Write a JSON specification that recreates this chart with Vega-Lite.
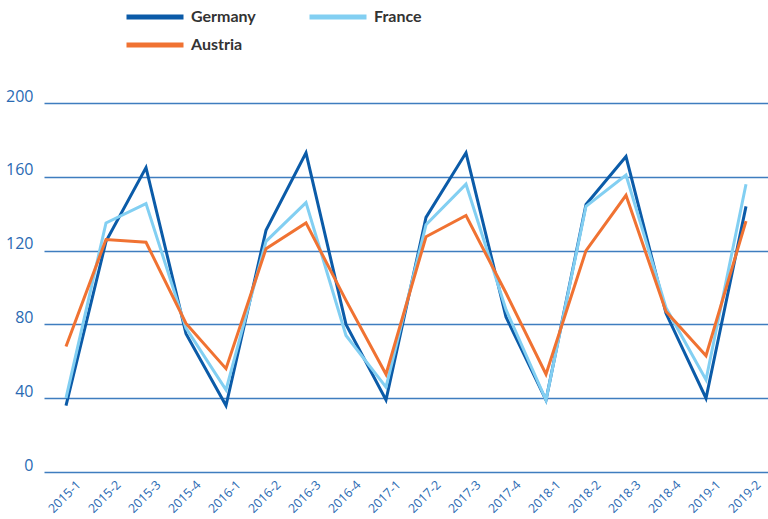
{
  "$schema": "https://vega.github.io/schema/vega-lite/v6.json",
  "width": 724,
  "height": 369,
  "autosize": "none",
  "padding": {"left": 44, "top": 103, "right": 0, "bottom": 47},
  "background": "white",
  "data": {"values": [
    {"q":"2015-1","c":"Germany","v":36},{"q":"2015-2","c":"Germany","v":125},{"q":"2015-3","c":"Germany","v":165},{"q":"2015-4","c":"Germany","v":75},
    {"q":"2016-1","c":"Germany","v":36},{"q":"2016-2","c":"Germany","v":131},{"q":"2016-3","c":"Germany","v":173},{"q":"2016-4","c":"Germany","v":80},
    {"q":"2017-1","c":"Germany","v":39},{"q":"2017-2","c":"Germany","v":138},{"q":"2017-3","c":"Germany","v":173},{"q":"2017-4","c":"Germany","v":84},
    {"q":"2018-1","c":"Germany","v":39},{"q":"2018-2","c":"Germany","v":145},{"q":"2018-3","c":"Germany","v":171},{"q":"2018-4","c":"Germany","v":86},
    {"q":"2019-1","c":"Germany","v":40},{"q":"2019-2","c":"Germany","v":144},
    {"q":"2015-1","c":"France","v":40},{"q":"2015-2","c":"France","v":135},{"q":"2015-3","c":"France","v":145.5},{"q":"2015-4","c":"France","v":78},
    {"q":"2016-1","c":"France","v":44.5},{"q":"2016-2","c":"France","v":125},{"q":"2016-3","c":"France","v":146},{"q":"2016-4","c":"France","v":74},
    {"q":"2017-1","c":"France","v":46},{"q":"2017-2","c":"France","v":134},{"q":"2017-3","c":"France","v":156},{"q":"2017-4","c":"France","v":88},
    {"q":"2018-1","c":"France","v":39},{"q":"2018-2","c":"France","v":144},{"q":"2018-3","c":"France","v":161},{"q":"2018-4","c":"France","v":89},
    {"q":"2019-1","c":"France","v":50},{"q":"2019-2","c":"France","v":156},
    {"q":"2015-1","c":"Austria","v":68},{"q":"2015-2","c":"Austria","v":126},{"q":"2015-3","c":"Austria","v":124.5},{"q":"2015-4","c":"Austria","v":80.5},
    {"q":"2016-1","c":"Austria","v":56},{"q":"2016-2","c":"Austria","v":121},{"q":"2016-3","c":"Austria","v":135},{"q":"2016-4","c":"Austria","v":93},
    {"q":"2017-1","c":"Austria","v":53},{"q":"2017-2","c":"Austria","v":127.5},{"q":"2017-3","c":"Austria","v":139},{"q":"2017-4","c":"Austria","v":97},
    {"q":"2018-1","c":"Austria","v":53},{"q":"2018-2","c":"Austria","v":120},{"q":"2018-3","c":"Austria","v":150},{"q":"2018-4","c":"Austria","v":87},
    {"q":"2019-1","c":"Austria","v":63},{"q":"2019-2","c":"Austria","v":136}
  ]},
  "mark": {"type": "line", "strokeWidth": 3, "strokeJoin": "miter"},
  "encoding": {
    "x": {
      "field": "q", "type": "ordinal", "sort": null,
      "scale": {"type": "point", "padding": 0.55},
      "axis": {
        "title": null, "domain": false, "ticks": false, "grid": false,
        "labelAngle": -45, "labelFontSize": 12.5, "labelFont": "Open Sans",
        "labelColor": "#2a6ab3", "labelPadding": 6, "labelOffset": 8
      }
    },
    "y": {
      "field": "v", "type": "quantitative",
      "scale": {"domain": [0, 200], "nice": false},
      "axis": {
        "title": null, "values": [0, 40, 80, 120, 160, 200], "domain": false, "ticks": false,
        "grid": true, "gridColor": "#3f7dbf", "gridWidth": 1.5, "gridOpacity": 1,
        "labelFontSize": 16, "labelFont": "Open Sans", "labelColor": "#2a6ab3",
        "labelPadding": 11, "labelBaseline": "alphabetic", "labelOffset": -2
      }
    },
    "color": {
      "field": "c", "type": "nominal",
      "scale": {"domain": ["Germany", "France", "Austria"], "range": ["#0b5ba8", "#82cff2", "#f07232"]},
      "legend": {
        "title": null, "orient": "none", "legendX": 99, "legendY": -98,
        "direction": "horizontal", "columns": 2, "columnPadding": 43, "rowPadding": 6,
        "symbolType": "M-3,0H3", "symbolSize": 361, "symbolStrokeWidth": 5,
        "labelFont": "Lato", "labelFontWeight": "bold", "labelFontSize": 16, "labelColor": "#333333",
        "labelOffset": 24
      }
    }
  },
  "config": {"view": {"stroke": null}}
}
